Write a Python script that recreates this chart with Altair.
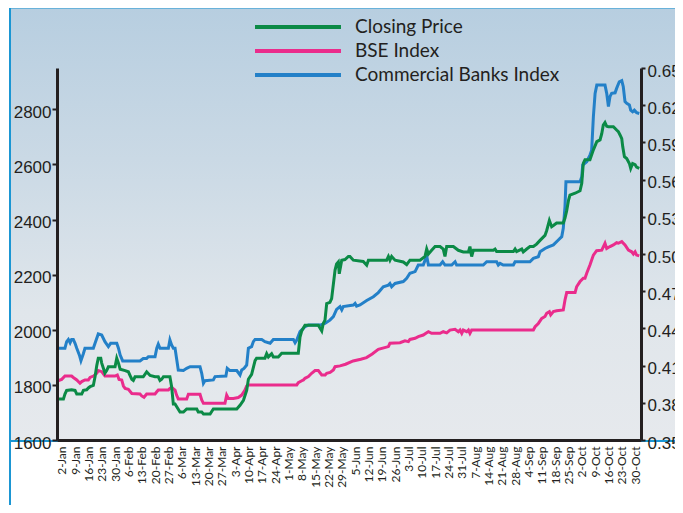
import json
import altair as alt
import pandas as pd

# ---------------- data ----------------
SERIES = ["Closing Price", "BSE Index", "Commercial Banks Index"]
COLORS = ["#0b8a46", "#ea2c8c", "#2380c8"]

# x axis: days counted from 1 Jan (2 Jan = 1); weekly Monday labels
TICK_DAYS = list(range(1, 303, 7))
TICK_LABELS = ["2-Jan", "9-Jan", "16-Jan", "23-Jan", "30-Jan", "6-Feb", "13-Feb", "20-Feb",
               "27-Feb", "6-Mar", "13-Mar", "20-Mar", "27-Mar", "3-Apr", "10-Apr", "17-Apr",
               "24-Apr", "1-May", "8-May", "15-May", "22-May", "29-May", "5-Jun", "12-Jun",
               "19-Jun", "26-Jun", "3-Jul", "10-Jul", "17-Jul", "24-Jul", "31-Jul", "7-Aug",
               "14-Aug", "21-Aug", "28-Aug", "4-Sep", "11-Sep", "18-Sep", "25-Sep", "2-Oct",
               "9-Oct", "16-Oct", "23-Oct", "30-Oct"]

LEFT_TICKS = [1600, 1800, 2000, 2200, 2400, 2600, 2800]
RIGHT_TICKS = [0.35, 0.38, 0.41, 0.44, 0.47, 0.50, 0.53, 0.56, 0.59, 0.62, 0.65]

# Commercial Banks Index (left axis)
CBI_DAYS = [-1, 2.7, 3.6, 4.5, 5.4, 6.2, 7.1, 8.0, 8.9, 10.3, 11.1, 12.4, 13.2, 17.6, 18.5, 20.2,
            22.0, 23.7, 25.5, 26.7, 29.9, 30.8, 31.7, 33.0, 42.1, 43.8, 45.6, 46.5, 50.0, 50.9,
            51.7, 52.6, 57.0, 57.8, 58.7, 59.6, 60.5, 61.3, 62.2, 64.9, 66.6, 68.4, 73.6, 74.5,
            75.4, 76.2, 80.6, 81.5, 87.2, 87.9, 89.3, 92.9, 94.6, 95.5, 96.7, 98.1, 99.0, 100.7,
            101.6, 102.5, 106.0, 107.7, 110.4, 112.1, 122.6, 123.5, 124.4, 126.1, 128.7, 130.5,
            136.6, 139.2, 141.8, 143.6, 145.3, 147.1, 148.0, 148.8, 154.1, 155.0, 155.8, 157.6,
            161.1, 164.6, 167.2, 169.8, 172.5, 173.3, 174.2, 176.0, 180.3, 182.1, 183.8, 186.5,
            188.2, 190.8, 192.6, 193.5, 199.6, 201.0, 202.2, 205.7, 207.5, 208.3, 222.3, 224.1,
            229.3, 230.2, 231.1, 232.8, 238.1, 239.0, 246.8, 248.6, 251.2, 252.1, 254.7, 256.5,
            259.1, 261.7, 263.5, 264.3, 265.2, 265.7, 273.1, 274.0, 274.5, 276.6, 278.3, 279.2,
            280.1, 281.0, 281.9, 286.2, 287.1, 288.0, 288.8, 289.7, 291.5, 292.3, 293.7, 295.0,
            295.8, 296.7, 297.6, 299.0, 299.7, 300.7, 301.6, 302.8, 304.2]
CBI_VALUES = [1933, 1933, 1957, 1965, 1953, 1965, 1965, 1951, 1933, 1908, 1888, 1914, 1933, 1933,
              1951, 1985, 1981, 1957, 1939, 1951, 1951, 1933, 1908, 1887, 1887, 1896, 1896, 1902,
              1902, 1933, 1948, 1933, 1933, 1963, 1945, 1933, 1933, 1896, 1854, 1852, 1860, 1866,
              1866, 1842, 1806, 1815, 1818, 1830, 1832, 1860, 1852, 1852, 1836, 1854, 1860, 1872,
              1933, 1939, 1957, 1965, 1965, 1957, 1951, 1965, 1965, 1953, 1963, 1993, 2011, 2017,
              2017, 2023, 2035, 2048, 2074, 2084, 2072, 2084, 2090, 2096, 2086, 2090, 2106, 2120,
              2135, 2156, 2162, 2168, 2156, 2168, 2175, 2187, 2205, 2211, 2235, 2235, 2268, 2235,
              2235, 2247, 2235, 2235, 2247, 2235, 2235, 2247, 2247, 2235, 2241, 2235, 2235, 2247,
              2247, 2259, 2265, 2283, 2295, 2301, 2308, 2326, 2338, 2368, 2447, 2537, 2537, 2555,
              2598, 2610, 2634, 2652, 2773, 2858, 2888, 2888, 2858, 2810, 2846, 2858, 2860, 2876,
              2900, 2904, 2882, 2828, 2822, 2816, 2797, 2791, 2797, 2788, 2785]

# BSE Index (left axis)
BSE_DAYS = [-1, 1.0, 2.7, 6.2, 7.1, 8.9, 10.6, 11.5, 13.2, 15.0, 15.9, 17.6, 19.4, 20.2, 22.0,
            23.7, 29.0, 30.2, 31.1, 32.5, 33.4, 34.3, 36.0, 37.8, 42.1, 43.0, 44.2, 45.6, 50.0,
            50.9, 51.7, 57.0, 57.8, 58.7, 60.5, 61.3, 62.2, 66.6, 67.5, 73.6, 74.5, 75.4, 86.7,
            87.6, 88.5, 91.1, 93.7, 95.5, 97.2, 98.1, 99.0, 124.4, 125.2, 127.0, 127.9, 128.7,
            130.5, 132.2, 134.0, 135.7, 137.5, 139.3, 140.1, 141.9, 143.6, 144.5, 147.1, 150.0,
            154.0, 158.0, 161.0, 164.0, 167.2, 172.5, 173.3, 178.6, 181.2, 183.0, 183.8, 186.5,
            188.2, 190.8, 192.6, 193.5, 195.2, 199.6, 201.3, 203.1, 204.8, 207.5, 209.2, 210.1,
            211.0, 211.8, 213.6, 214.5, 215.3, 216.2, 248.6, 249.5, 251.2, 253.0, 254.7, 255.6,
            257.0, 257.7, 259.1, 260.8, 264.3, 265.2, 266.1, 270.5, 271.3, 273.1, 274.8, 275.7,
            276.6, 278.3, 280.1, 281.8, 284.5, 286.2, 287.1, 288.8, 290.6, 292.3, 293.2, 295.0,
            296.7, 298.5, 300.2, 301.1, 302.0, 302.8, 304.2]
BSE_VALUES = [1815, 1820, 1832, 1832, 1827, 1818, 1806, 1812, 1818, 1818, 1827, 1832, 1842, 1852,
              1848, 1832, 1832, 1836, 1820, 1818, 1796, 1787, 1784, 1769, 1767, 1760, 1755, 1767,
              1767, 1775, 1781, 1781, 1787, 1791, 1781, 1763, 1749, 1749, 1766, 1766, 1745, 1733,
              1733, 1763, 1751, 1751, 1754, 1763, 1781, 1796, 1800, 1800, 1808, 1815, 1818, 1824,
              1830, 1842, 1852, 1852, 1836, 1836, 1842, 1845, 1854, 1866, 1869, 1875, 1887, 1893,
              1899, 1912, 1929, 1939, 1951, 1953, 1960, 1957, 1965, 1969, 1975, 1981, 1989, 1993,
              1987, 1987, 1993, 1989, 1999, 2002, 1993, 1999, 1987, 1999, 1993, 1999, 1987, 1999,
              1999, 2011, 2023, 2041, 2048, 2060, 2066, 2054, 2066, 2069, 2072, 2108, 2135, 2135,
              2156, 2175, 2187, 2187, 2205, 2235, 2271, 2287, 2289, 2314, 2295, 2302, 2308, 2316,
              2314, 2320, 2308, 2289, 2283, 2275, 2283, 2271, 2268]

# Closing Price (right axis)
CP_DAYS = [-1, 1.9, 2.7, 3.6, 6.2, 8.0, 8.9, 11.5, 12.4, 14.1, 15.0, 15.9, 17.6, 18.5, 19.4, 20.2,
           21.5, 22.0, 23.7, 24.6, 25.5, 29.0, 29.9, 30.8, 31.7, 34.3, 36.0, 36.9, 37.8, 38.6,
           39.5, 43.8, 45.6, 47.4, 50.0, 51.7, 52.6, 53.5, 54.4, 57.8, 58.7, 59.6, 60.5, 61.3,
           63.1, 64.9, 66.6, 71.9, 72.7, 74.5, 75.4, 78.9, 80.6, 92.9, 94.6, 96.4, 98.1, 99.0,
           100.7, 102.5, 103.3, 107.7, 108.6, 109.5, 111.2, 112.1, 114.7, 116.5, 125.2, 126.1,
           127.0, 128.7, 135.7, 137.5, 138.3, 139.2, 140.1, 141.8, 142.7, 144.5, 145.3, 146.2,
           146.7, 148.0, 149.7, 151.5, 152.3, 154.1, 159.3, 161.1, 162.0, 171.6, 172.5, 173.3,
           174.2, 176.0, 180.3, 182.1, 183.8, 189.1, 191.7, 192.6, 193.5, 195.2, 197.0, 199.6,
           201.3, 202.2, 203.1, 206.6, 209.2, 211.8, 214.5, 215.3, 216.2, 217.1, 227.6, 228.5,
           229.3, 238.1, 239.0, 239.8, 242.5, 243.3, 245.1, 246.8, 248.6, 250.3, 252.1, 254.7,
           255.6, 257.0, 258.2, 259.1, 260.8, 264.3, 265.2, 266.1, 267.0, 267.8, 270.5, 273.1,
           274.0, 274.8, 275.7, 278.3, 279.2, 280.1, 281.9, 283.6, 284.5, 285.3, 286.2, 287.1,
           288.0, 290.6, 292.3, 293.2, 294.1, 295.0, 295.5, 296.4, 297.6, 299.0, 299.7, 300.7,
           302.0, 302.8, 304.2]
CP_VALUES = [0.383, 0.383, 0.387, 0.390, 0.3905, 0.390, 0.387, 0.387, 0.390, 0.3905, 0.392, 0.393,
             0.394, 0.401, 0.410, 0.416, 0.416, 0.412, 0.404, 0.406, 0.409, 0.409, 0.416, 0.412,
             0.407, 0.406, 0.405, 0.402, 0.399, 0.398, 0.401, 0.401, 0.405, 0.402, 0.401, 0.401,
             0.398, 0.399, 0.401, 0.401, 0.393, 0.379, 0.379, 0.377, 0.3725, 0.3725, 0.375, 0.375,
             0.3725, 0.3725, 0.371, 0.371, 0.375, 0.375, 0.378, 0.382, 0.390, 0.399, 0.403, 0.414,
             0.416, 0.416, 0.4196, 0.417, 0.4196, 0.417, 0.417, 0.420, 0.420, 0.433, 0.438,
             0.4425, 0.4425, 0.438, 0.444, 0.4465, 0.460, 0.461, 0.464, 0.487, 0.492, 0.4936,
             0.484, 0.495, 0.4955, 0.498, 0.498, 0.495, 0.494, 0.491, 0.495, 0.495, 0.498, 0.495,
             0.498, 0.495, 0.4936, 0.4915, 0.495, 0.495, 0.498, 0.504, 0.500, 0.503, 0.506, 0.506,
             0.504, 0.498, 0.506, 0.506, 0.503, 0.5017, 0.5017, 0.506, 0.498, 0.503, 0.503, 0.504,
             0.502, 0.502, 0.504, 0.502, 0.504, 0.5017, 0.504, 0.506, 0.506, 0.508, 0.511, 0.515,
             0.519, 0.527, 0.522, 0.523, 0.525, 0.525, 0.529, 0.535, 0.543, 0.5475, 0.549, 0.551,
             0.557, 0.573, 0.576, 0.576, 0.580, 0.584, 0.5906, 0.592, 0.597, 0.604, 0.606, 0.603,
             0.6027, 0.6027, 0.600, 0.5987, 0.596, 0.593, 0.5866, 0.5785, 0.577, 0.573, 0.569,
             0.573, 0.572, 0.570, 0.569]

# ---------------- tables ----------------
left_df = pd.concat([
    pd.DataFrame({"series": "BSE Index", "day": BSE_DAYS, "value": BSE_VALUES}),
    pd.DataFrame({"series": "Commercial Banks Index", "day": CBI_DAYS, "value": CBI_VALUES}),
])
right_df = pd.DataFrame({"series": "Closing Price", "day": CP_DAYS, "value": CP_VALUES})

INK = "#231f20"
FRAME = "#1b96d3"

label_expr = json.dumps(TICK_LABELS) + "[round((datum.value - 1) / 7)]"

x_enc = alt.X(
    "day:Q",
    title=None,
    scale=alt.Scale(domain=[-1.47, 305.1], nice=False, zero=False),
    axis=alt.Axis(values=TICK_DAYS, labelExpr=label_expr, labelAngle=270, labelAlign="right",
                  labelBaseline="middle", labelFont="Lato", labelFontSize=12, labelColor=INK,
                  labelPadding=6, ticks=False, tickSize=0, domainColor=INK, domainWidth=3,
                  grid=False, zindex=2, labelOverlap=False),
)

color_enc = alt.Color(
    "series:N",
    scale=alt.Scale(domain=SERIES, range=COLORS),
    legend=alt.Legend(orient="none", legendX=228, legendY=-54, title=None,
                      symbolType="M-4,0H4", symbolSize=462, symbolStrokeWidth=4,
                      labelOffset=44, labelFont="Lato", labelFontSize=19, labelColor=INK,
                      rowPadding=1, padding=0, direction="vertical", labelLimit=400),
)

gradient = alt.LinearGradient(
    gradient="linear", x1=0, x2=0, y1=0, y2=1,
    stops=[alt.GradientStop(color="#b7cee0", offset=0),
           alt.GradientStop(color="#cad9e5", offset=0.35),
           alt.GradientStop(color="#e0e6eb", offset=0.7),
           alt.GradientStop(color="#e6e9ed", offset=1)],
)

one = pd.DataFrame({"k": [0]})
bg = alt.Chart(one).mark_rect(fill=gradient, stroke=FRAME, strokeWidth=2).encode(
    x=alt.value(-47), x2=alt.value(700), y=alt.value(-60.5), y2=alt.value(373))
side = alt.Chart(one).mark_rule(color=FRAME, strokeWidth=2).encode(
    x=alt.value(-47), y=alt.value(373), y2=alt.value(470))

left_lines = alt.Chart(left_df).mark_line(strokeWidth=3).encode(
    x=x_enc,
    y=alt.Y("value:Q", title=None,
            scale=alt.Scale(domain=[1600, 2950], nice=False, zero=False),
            axis=alt.Axis(orient="left", values=LEFT_TICKS, format="d",
                          labelFont="Liberation Sans", labelFontSize=17, labelColor=INK,
                          labelPadding=1, labelOffset=3, tickColor=INK, tickWidth=2,
                          tickSize=5, domainColor=INK, domainWidth=3, grid=False, zindex=2)),
    color=color_enc,
    detail="series:N",
)

right_line = alt.Chart(right_df).mark_line(strokeWidth=3).encode(
    x=x_enc,
    y=alt.Y("value:Q", title=None,
            scale=alt.Scale(domain=[0.35, 0.65], nice=False, zero=False),
            axis=alt.Axis(orient="right", values=RIGHT_TICKS, format=".3f",
                          labelFont="Liberation Sans", labelFontSize=17, labelColor=INK,
                          labelPadding=2, labelOffset=3, tickColor=INK, tickWidth=2,
                          tickSize=4, domainColor=INK, domainWidth=3, grid=False, zindex=2)),
    color=color_enc,
)

chart = alt.layer(bg, side, left_lines, right_line).resolve_scale(
    y="independent"
).properties(
    width=584,
    height=372,
    autosize=alt.AutoSizeParams(type="none"),
    padding={"left": 49, "top": 60, "right": 34, "bottom": 65},
    background="white",
).configure_view(strokeWidth=0)

chart.save("out.html", embed_options={"renderer": "svg", "actions": False})
